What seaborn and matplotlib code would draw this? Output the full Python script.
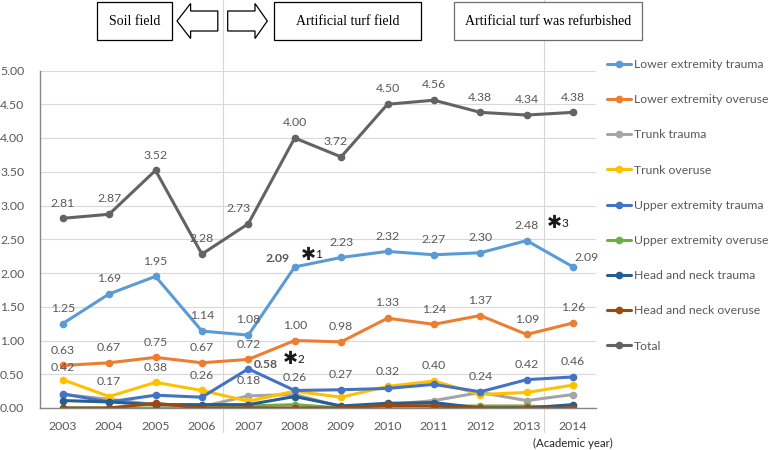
import matplotlib
matplotlib.use("Agg")
import matplotlib.pyplot as plt
from matplotlib.patches import Polygon, Rectangle
import numpy as np
import seaborn as sns

years = [2003, 2004, 2005, 2006, 2007, 2008, 2009, 2010, 2011, 2012, 2013, 2014]

lower_ext_trauma = [1.25, 1.69, 1.95, 1.14, 1.08, 2.09, 2.23, 2.32, 2.27, 2.30, 2.48, 2.09]
lower_ext_overuse = [0.63, 0.67, 0.75, 0.67, 0.72, 1.00, 0.98, 1.33, 1.24, 1.37, 1.09, 1.26]
trunk_trauma = [0.20, 0.13, 0.05, 0.02, 0.18, 0.20, 0.02, 0.05, 0.11, 0.23, 0.11, 0.20]
trunk_overuse = [0.42, 0.17, 0.38, 0.26, 0.10, 0.25, 0.16, 0.32, 0.40, 0.20, 0.23, 0.34]
upper_ext_trauma = [0.21, 0.09, 0.19, 0.16, 0.58, 0.26, 0.27, 0.29, 0.35, 0.24, 0.42, 0.46]
upper_ext_overuse = [0.00, 0.00, 0.00, 0.00, 0.03, 0.05, 0.00, 0.02, 0.03, 0.03, 0.03, 0.00]
head_neck_trauma = [0.11, 0.09, 0.05, 0.05, 0.05, 0.17, 0.03, 0.07, 0.08, 0.00, 0.00, 0.05]
head_neck_overuse = [0.00, 0.00, 0.07, 0.00, 0.00, 0.00, 0.00, 0.04, 0.03, 0.00, 0.00, 0.00]
total = [2.81, 2.87, 3.52, 2.28, 2.73, 4.00, 3.72, 4.50, 4.56, 4.38, 4.34, 4.38]

series_names = [
    "Lower extremity trauma",
    "Lower extremity overuse",
    "Trunk trauma",
    "Trunk overuse",
    "Upper extremity trauma",
    "Upper extremity overuse",
    "Head and neck trauma",
    "Head and neck overuse",
    "Total",
]
series_values = [
    lower_ext_trauma, lower_ext_overuse, trunk_trauma, trunk_overuse,
    upper_ext_trauma, upper_ext_overuse, head_neck_trauma, head_neck_overuse, total,
]
series_colors = [
    "#5B9BD5", "#ED7D31", "#A5A5A5", "#FFC000",
    "#4472C4", "#70AD47", "#255E91", "#9E480E", "#636363",
]

# which years get a data label on the small series
trunk_overuse_label_years = [2003, 2004, 2005, 2006, 2010, 2011]
trunk_trauma_label_years = [2007]
upper_ext_trauma_label_years = [2008, 2009, 2012, 2013, 2014]

W, H = 771, 450
GRAY = "#595959"


def fig_xy(x, y):
    return x / W, 1 - y / H


def label(ax, x, y, dx=0, dy=11, ha="center", weight="normal"):
    ax.annotate(f"{y:.2f}", (x, y), xytext=(dx, dy), textcoords="offset points",
                ha=ha, va="center", fontsize=8.8, color=GRAY, fontweight=weight)


def star(ax, x, y, num):
    ax.text(x, y, "\u2731", fontsize=13, ha="center", va="center",
            color="#1a1a1a", family="DejaVu Sans")
    ax.annotate(num, (x, y), xytext=(7.5, 0), textcoords="offset points",
                ha="center", va="center", fontsize=8.5, color="#1a1a1a")


def draw_box(fig, x0, y0, x1, y1, text, edge="black"):
    fx0, fy1 = fig_xy(x0, y1)
    fx1, fy0 = fig_xy(x1, y0)
    fig.patches.append(Rectangle((fx0, fy1), fx1 - fx0, fy0 - fy1, transform=fig.transFigure,
                                 facecolor="white", edgecolor=edge, linewidth=0.9, zorder=5))
    fig.text((fx0 + fx1) / 2, (fy0 + fy1) / 2, text, ha="center", va="center",
             fontsize=10, family="Liberation Serif", color="black", zorder=6)


def draw_arrow(fig, pts):
    fig.patches.append(Polygon([fig_xy(x, y) for x, y in pts], closed=True,
                               transform=fig.transFigure, facecolor="white",
                               edgecolor="black", linewidth=0.9, zorder=5))


def main():
    sns.set_theme(style="white")
    plt.rcParams["font.family"] = ["Lato", "DejaVu Sans"]

    fig = plt.figure(figsize=(W / 100, H / 100), dpi=100)
    ax = fig.add_axes([39.5 / W, 42 / H, 556.8 / W, 337.5 / H])

    for name, vals, color in zip(series_names, series_values, series_colors):
        sns.lineplot(x=years, y=vals, color=color, marker="o", markersize=5.5,
                     markeredgecolor=color, markeredgewidth=0, linewidth=2.2,
                     label=name, ax=ax)

    ax.set_xlim(2002.5, 2014.5)
    ax.set_ylim(0, 5)
    ax.set_xticks(years)
    ax.set_yticks(np.arange(0, 5.01, 0.5))
    ax.set_yticklabels([f"{v:.2f}" for v in np.arange(0, 5.01, 0.5)])
    ax.set_xlabel("")
    ax.set_ylabel("")
    ax.tick_params(axis="both", length=0, labelsize=8.8, colors=GRAY)
    ax.tick_params(axis="y", pad=11)
    ax.tick_params(axis="x", pad=9)
    ax.grid(axis="y", color="#d9d9d9", linewidth=0.8)
    ax.set_axisbelow(True)
    for side in ["top", "right"]:
        ax.spines[side].set_visible(False)
    for side in ["left", "bottom"]:
        ax.spines[side].set_color("#868686")
        ax.spines[side].set_linewidth(1.0)

    # period separators
    for xv in [2006.45, 2013.37]:
        ax.axvline(xv, ymin=-0.07, ymax=1.21, color="#d6d6d6", linewidth=0.8,
                   clip_on=False, zorder=0)

    # data labels
    total_dx = {2007: -7, 2009: -4}
    for x, y in zip(years, total):
        label(ax, x, y, dx=total_dx.get(x, 0))
    for x, y in zip(years, lower_ext_trauma):
        if x == 2008:
            label(ax, x, y, dx=-4, dy=6, ha="right", weight="bold")
        elif x == 2014:
            label(ax, x, y, dx=10, dy=7)
        else:
            label(ax, x, y)
    for x, y in zip(years, lower_ext_overuse):
        label(ax, x, y)
    for x, y in zip(years, trunk_overuse):
        if x in trunk_overuse_label_years:
            label(ax, x, y, dy=9 if x == 2003 else 11)
    for x, y in zip(years, trunk_trauma):
        if x in trunk_trauma_label_years:
            label(ax, x, y)
    for x, y in zip(years, upper_ext_trauma):
        if x == 2007:
            label(ax, x, y, dx=4, dy=3, ha="left", weight="bold")
        elif x == 2008:
            label(ax, x, y, dy=9)
        elif x in upper_ext_trauma_label_years:
            label(ax, x, y)

    star(ax, 2007.9, 0.72, "2")
    star(ax, 2008.29, 2.27, "1")
    star(ax, 2013.59, 2.74, "3")

    ax.text(2014.0, -0.52, "(Academic year)", ha="center", va="center",
            fontsize=8.3, color="#262626")

    handles, labels = ax.get_legend_handles_labels()
    leg = ax.legend(handles, labels, loc="upper left",
                    bbox_to_anchor=fig_xy(606.7, 59), bbox_transform=fig.transFigure,
                    frameon=False, fontsize=8.8, handlelength=2.0, handletextpad=0.2,
                    labelspacing=1.98, borderpad=0, borderaxespad=0)
    for t in leg.get_texts():
        t.set_color(GRAY)

    # header boxes and arrows
    draw_box(fig, 96.5, 2.5, 172.3, 39.6, "Soil field")
    draw_arrow(fig, [(177, 21), (190.6, 3.5), (190.6, 11), (217.8, 11),
                     (217.8, 31), (190.6, 31), (190.6, 38.5)])
    draw_arrow(fig, [(267.3, 21), (255, 3.5), (255, 11), (227.7, 11),
                     (227.7, 31), (255, 31), (255, 38.5)])
    draw_box(fig, 273.8, 2.5, 420.8, 39.6, "Artificial turf field")
    draw_box(fig, 454, 2.5, 642, 39.6, "Artificial turf was refurbished", edge="#6e6e6e")

    fig.savefig("out.png", dpi=100)


if __name__ == "__main__":
    main()
